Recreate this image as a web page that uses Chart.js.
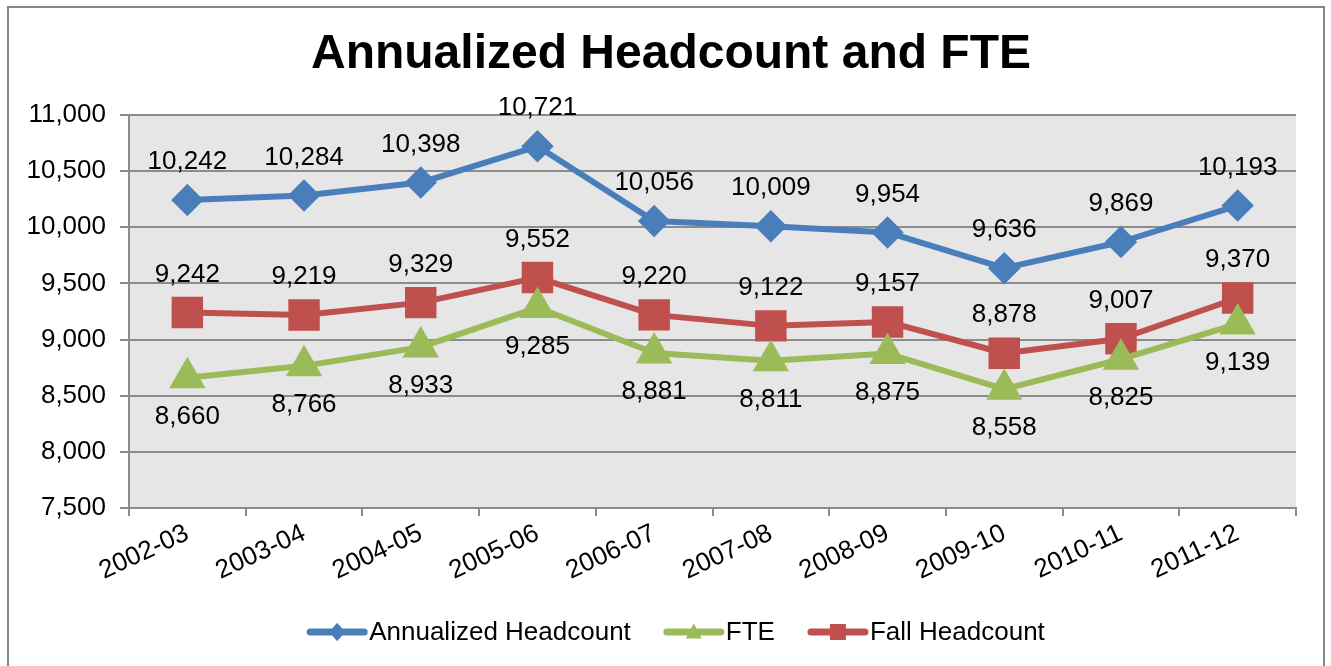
<!DOCTYPE html>
<html lang="en">
<head>
    <meta charset="UTF-8">
    <title>Annualized Headcount and FTE</title>
    <script src="https://cdn.jsdelivr.net/npm/chart.js@4.4.1/dist/chart.umd.min.js"></script>
    <style>
        body { margin: 0; background: #fff; }
        #hcChart { display: block; }
    </style>
</head>
<body>
    <canvas id="hcChart" width="1331" height="666"></canvas>

    <script>
        // data
        const years = ['2002-03', '2003-04', '2004-05', '2005-06', '2006-07', '2007-08', '2008-09', '2009-10', '2010-11', '2011-12'];
        const annualizedHeadcount = [10242, 10284, 10398, 10721, 10056, 10009, 9954, 9636, 9869, 10193];
        const fte = [8660, 8766, 8933, 9285, 8881, 8811, 8875, 8558, 8825, 9139];
        const fallHeadcount = [9242, 9219, 9329, 9552, 9220, 9122, 9157, 8878, 9007, 9370];
        const yTicks = [7500, 8000, 8500, 9000, 9500, 10000, 10500, 11000];

        const FONT = '"Liberation Sans", Arial, sans-serif';
        const GRID = '#8c8c8c';
        const BLUE = '#4a7ebb', GREEN = '#9bbb59', RED = '#c0504d';

        const fmt = v => v.toLocaleString('en-US');

        function marker(ctx, style, x, y, r) {
            ctx.beginPath();
            if (style === 'rectRot') {
                ctx.moveTo(x - r, y); ctx.lineTo(x, y - r * 1.15); ctx.lineTo(x + r, y); ctx.lineTo(x, y + r * 1.15);
            } else if (style === 'rect') {
                ctx.rect(x - r, y - r, 2 * r, 2 * r);
            } else {
                ctx.moveTo(x, y - r * 1.1); ctx.lineTo(x + r, y + r * 0.8); ctx.lineTo(x - r, y + r * 0.8);
            }
            ctx.closePath();
            ctx.fill();
        }

        const decorPlugin = {
            id: 'decor',
            beforeDraw(chart) {
                const ctx = chart.ctx, a = chart.chartArea;
                ctx.save();
                ctx.fillStyle = '#fff';
                ctx.fillRect(0, 0, chart.width, chart.height);
                ctx.fillStyle = '#e6e6e6';
                ctx.fillRect(a.left, a.top, a.right - a.left, a.bottom - a.top);
                ctx.strokeStyle = '#868686';
                ctx.lineWidth = 2;
                ctx.strokeRect(8, 7, 1316, 680);
                ctx.restore();
            },
            afterDraw(chart) {
                const ctx = chart.ctx;
                ctx.save();
                // title
                ctx.fillStyle = '#000';
                ctx.font = 'bold 48px ' + FONT;
                ctx.textAlign = 'center';
                ctx.textBaseline = 'middle';
                ctx.fillText('Annualized Headcount and FTE', 671, 55);

                // value labels
                ctx.font = '26px ' + FONT;
                const offsets = [-38, 39, -38];
                chart.data.datasets.forEach((ds, i) => {
                    chart.getDatasetMeta(i).data.forEach((pt, j) => {
                        ctx.fillText(fmt(ds.data[j]), pt.x, pt.y + offsets[i]);
                    });
                });

                // legend
                ctx.textAlign = 'left';
                const ly = 632, lineW = 60, gap = 2, spacing = 33;
                const items = chart.data.datasets.map(ds => ({ ds, w: ctx.measureText(ds.label).width }));
                const total = items.reduce((s, it) => s + lineW + gap + it.w, 0) + spacing * (items.length - 1);
                let x = 676 - total / 2;
                items.forEach(it => {
                    ctx.strokeStyle = it.ds.borderColor;
                    ctx.fillStyle = it.ds.borderColor;
                    ctx.lineWidth = 7;
                    ctx.lineCap = 'round';
                    ctx.beginPath();
                    ctx.moveTo(x + 3, ly); ctx.lineTo(x + lineW - 3, ly);
                    ctx.stroke();
                    marker(ctx, it.ds.pointStyle, x + lineW / 2, ly, 8);
                    ctx.fillStyle = '#000';
                    ctx.fillText(it.ds.label, x + lineW + gap, ly + 1);
                    x += lineW + gap + it.w + spacing;
                });
                ctx.restore();
            }
        };

        new Chart(document.getElementById('hcChart'), {
            type: 'line',
            data: {
                labels: years,
                datasets: [{
                    label: 'Annualized Headcount',
                    data: annualizedHeadcount,
                    borderColor: BLUE,
                    backgroundColor: BLUE,
                    pointStyle: 'rectRot',
                    pointRadius: 12,
                    borderWidth: 6
                }, {
                    label: 'FTE',
                    data: fte,
                    borderColor: GREEN,
                    backgroundColor: GREEN,
                    pointStyle: 'triangle',
                    pointRadius: 15,
                    borderWidth: 6
                }, {
                    label: 'Fall Headcount',
                    data: fallHeadcount,
                    borderColor: RED,
                    backgroundColor: RED,
                    pointStyle: 'rect',
                    pointRadius: 18,
                    borderWidth: 6
                }]
            },
            options: {
                responsive: false,
                animation: false,
                layout: { padding: { top: 115, right: 35, left: 0, bottom: 0 } },
                elements: {
                    line: { tension: 0, borderJoinStyle: 'round' },
                    point: { borderWidth: 0, hoverRadius: 12 }
                },
                plugins: {
                    legend: { display: false },
                    title: { display: false },
                    tooltip: { enabled: false }
                },
                scales: {
                    x: {
                        offset: true,
                        afterFit: s => { s.height = 158; },
                        grid: { offset: true, drawOnChartArea: false, color: GRID, lineWidth: 2, tickLength: 8 },
                        border: { display: true, color: GRID, width: 2 },
                        ticks: {
                            autoSkip: false, minRotation: 25, maxRotation: 25, padding: 2,
                            color: '#000', font: { family: FONT, size: 26 }
                        }
                    },
                    y: {
                        min: yTicks[0],
                        max: yTicks[yTicks.length - 1],
                        afterFit: s => { s.width = 129; },
                        afterBuildTicks: s => { s.ticks = yTicks.map(v => ({ value: v })); },
                        grid: { color: GRID, lineWidth: 2, tickLength: 9 },
                        border: { display: true, color: GRID, width: 2 },
                        ticks: {
                            padding: 14, color: '#000', font: { family: FONT, size: 26 },
                            callback: v => fmt(v)
                        }
                    }
                }
            },
            plugins: [decorPlugin]
        });
    </script>
</body>
</html>
